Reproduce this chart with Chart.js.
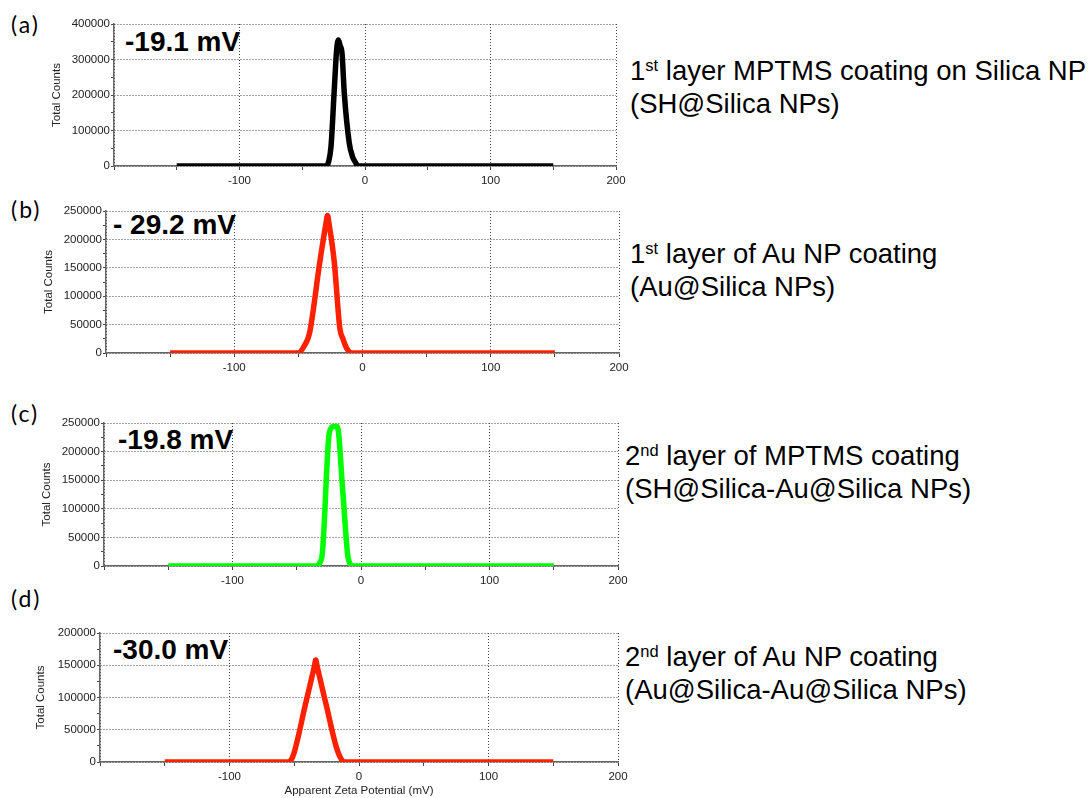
<!DOCTYPE html>
<html>
<head>
<meta charset="utf-8">
<script src="https://cdn.jsdelivr.net/npm/chart.js@4/dist/chart.umd.min.js"></script>
<style>
  html, body { margin: 0; padding: 0; background: #fff; }
  body { width: 1088px; height: 798px; position: relative; overflow: hidden; font-family: "Liberation Sans", Arial, sans-serif; }
  canvas { position: absolute; left: 0; }
  .tag { position: absolute; left: 11px; font-family: Lato, "Open Sans", sans-serif; font-size: 23px; line-height: 23px; letter-spacing: 2px; color: #000; }
  .zeta { position: absolute; font-weight: bold; font-size: 28px; line-height: 28px; color: #000; white-space: nowrap; }
  .desc { position: absolute; font-size: 27.5px; line-height: 33px; color: #000; white-space: nowrap; }
  .desc sup { font-size: 0.6em; line-height: 0; vertical-align: 0.55em; }
</style>
</head>
<body>

<div class="tag" style="top:13px">(a)</div>
<div class="tag" style="top:198px">(b)</div>
<div class="tag" style="top:402px">(c)</div>
<div class="tag" style="top:587px">(d)</div>

<div class="zeta" id="z0" style="left:125px; top:28px"></div>
<div class="zeta" id="z1" style="left:113px; top:211px"></div>
<div class="zeta" id="z2" style="left:118px; top:426px"></div>
<div class="zeta" id="z3" style="left:113px; top:636px"></div>

<div class="desc" style="left:630px; top:54px">1<sup>st</sup> layer MPTMS coating on Silica NP<br>(SH@Silica NPs)</div>
<div class="desc" style="left:630px; top:237px">1<sup>st</sup> layer of Au NP coating<br>(Au@Silica NPs)</div>
<div class="desc" style="left:625px; top:439px">2<sup>nd</sup> layer of MPTMS coating<br>(SH@Silica-Au@Silica NPs)</div>
<div class="desc" style="left:625px; top:640px">2<sup>nd</sup> layer of Au NP coating<br>(Au@Silica-Au@Silica NPs)</div>

<canvas id="c0"></canvas>
<canvas id="c1"></canvas>
<canvas id="c2"></canvas>
<canvas id="c3"></canvas>

<script>
// zeta potential distributions (mV vs total counts)
const zetaA = [-150, -31.1, -29, -27.1, -24.5, -22.6, -21.2, -19.9, -18.3, -16.5, -12.5, -9.9, -7.2, -6.1, 150];
const countsA = [0, 0, 12000, 54000, 214000, 327000, 355000, 340000, 317000, 205000, 64000, 26000, 7600, 0, 0];

const zetaB = [-150, -50.2, -45, -41.3, -33.3, -28.5, -27.3, -26.1, -22, -17.7, -15.1, -12.5, -8.6, 150];
const countsB = [0, 0, 14000, 35000, 160000, 228000, 242000, 228000, 160000, 44000, 24000, 9000, 0, 0];

const zetaC = [-150, -35.8, -30.6, -24.7, -21.6, -18.5, -14, -9.9, -6, 150];
const countsC = [0, 0, 13500, 232000, 244000, 244000, 125000, 13000, 0, 0];

const zetaD = [-150, -54.8, -52.2, -49.6, -41.5, -34.5, -33.4, -32.3, -25.5, -17.5, -13.6, -11.1, 150];
const countsD = [0, 0, 4000, 18000, 88000, 148000, 158000, 148000, 90000, 23000, 4000, 0, 0];

const meanZeta = ['-19.1 mV', '- 29.2 mV', '-19.8 mV', '-30.0 mV'];

// axis ranges and labelled tick steps
const xMin = -200, xMax = 200, xLabelStep = 100;
const yMaxes = [400000, 250000, 250000, 200000];
const yLabelSteps = [100000, 50000, 50000, 50000];
const lineColors = ['#000000', 'rgb(255,32,0)', 'rgb(0,255,0)', 'rgb(255,32,0)'];

const series = [[zetaA, countsA], [zetaB, countsB], [zetaC, countsC], [zetaD, countsD]];

// page placement of each panel: canvas top/height and plot box edges
const frames = [
  { top: 10,  height: 185, left: 114, right: 616, plotTop: 24,  plotBottom: 166, titleX: 57 },
  { top: 197, height: 185, left: 106, right: 619, plotTop: 211, plotBottom: 353, titleX: 49 },
  { top: 409, height: 185, left: 104, right: 618, plotTop: 423, plotBottom: 566, titleX: 47 },
  { top: 619, height: 179, left: 100, right: 618, plotTop: 633, plotBottom: 762, titleX: 41 }
];

const W = 640;
const tickFont = { family: '"Liberation Sans", Arial, sans-serif', size: 11.5 };
const gridGrey = '#444';

series.forEach(([xs, ys], i) => {
  const f = frames[i];
  const canvas = document.getElementById('c' + i);
  canvas.style.top = f.top + 'px';
  canvas.width = W;
  canvas.height = f.height;
  canvas.style.width = W + 'px';
  canvas.style.height = f.height + 'px';

  document.getElementById('z' + i).textContent = meanZeta[i];

  const labelStep = yLabelSteps[i];
  const isLast = i === series.length - 1;

  new Chart(canvas.getContext('2d'), {
    type: 'line',
    data: {
      datasets: [{
        data: xs.map((x, k) => ({ x: x, y: ys[k] })),
        borderColor: lineColors[i],
        borderWidth: 5.5,
        pointRadius: 0,
        fill: false,
        cubicInterpolationMode: 'monotone',
        borderJoinStyle: 'round',
        borderCapStyle: 'butt'
      }]
    },
    options: {
      responsive: false,
      animation: false,
      events: [],
      layout: {
        padding: { top: f.plotTop - f.top, right: W - f.right, left: 0, bottom: 0 }
      },
      plugins: { legend: { display: false }, tooltip: { enabled: false } },
      scales: {
        x: {
          type: 'linear',
          min: xMin,
          max: xMax,
          afterFit: scale => { scale.height = f.height - (f.plotBottom - f.top); },
          // border.dash dots the grid lines; the axis line itself stays solid
          border: { display: true, color: '#666', width: 1.5, dash: [1, 2] },
          grid: {
            color: ctx => (ctx.tick && ctx.tick.value % xLabelStep === 0) ? gridGrey : 'transparent',
            tickColor: '#444',
            tickBorderDash: [],
            tickLength: 4
          },
          ticks: {
            stepSize: 50,
            autoSkip: false,
            maxRotation: 0,
            padding: 4,
            color: '#222',
            font: tickFont,
            callback: v => (v % xLabelStep === 0 && v !== xMin) ? String(v) : ''
          },
          title: {
            display: isLast,
            text: 'Apparent Zeta Potential (mV)',
            color: '#222',
            font: tickFont,
            padding: { top: 0, bottom: 0 }
          }
        },
        y: {
          min: 0,
          max: yMaxes[i],
          afterFit: scale => { scale.width = f.left; },
          border: { display: true, color: '#666', width: 1.5, dash: [1, 2] },
          grid: {
            color: ctx => (ctx.tick && ctx.tick.value % labelStep === 0) ? gridGrey : 'transparent',
            tickColor: '#444',
            tickBorderDash: [],
            tickLength: 3
          },
          ticks: {
            stepSize: labelStep / 2,
            autoSkip: false,
            padding: 1,
            color: '#222',
            font: tickFont,
            callback: v => (v % labelStep === 0) ? String(v) : ''
          },
          title: {
            display: true,
            text: 'Total Counts',
            color: '#222',
            font: tickFont,
            padding: { top: f.titleX - 7, bottom: 0 }
          }
        }
      }
    }
  });
});
</script>
</body>
</html>
